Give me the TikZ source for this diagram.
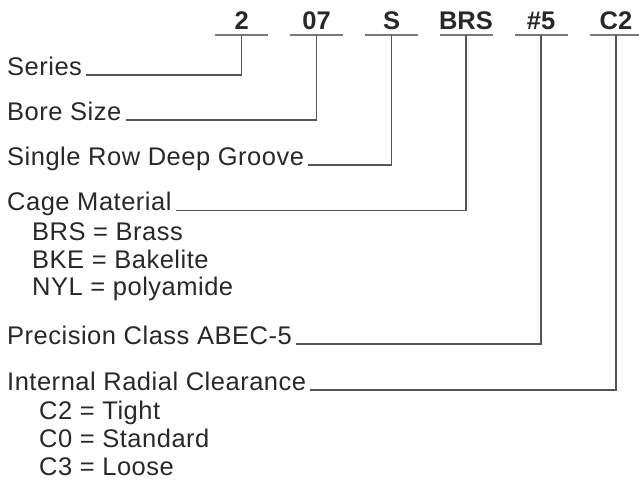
\documentclass[tikz,border=0pt]{standalone}
\usepackage{fontspec}
\setmainfont{Liberation Sans}
\newfontfamily\lblfont[LetterSpace=2]{Liberation Sans}
\usepackage{tikz}
\usepackage{xcolor}
\definecolor{inkgray}{RGB}{40, 40, 40}
\definecolor{linegray}{RGB}{85, 85, 85}
\definecolor{rulegray}{RGB}{120, 120, 120}
\tikzset{
  codetxt/.style={font=\fontsize{25.5}{30}\selectfont\bfseries, text=inkgray, inner sep=0pt},
  lbl/.style={font=\lblfont\fontsize{25.5}{30}\selectfont, text=inkgray, anchor=base west, inner xsep=4pt, inner ysep=0pt},
  lead/.style={draw=linegray, line width=1.3pt},
  uline/.style={draw=rulegray, line width=2pt}
}
\begin{document}
\begin{tikzpicture}[x=1pt, y=-1pt]
    \useasboundingbox (0,0) rectangle (639,483);
    % part number
    \foreach \code/\name/\x in {2/s2/241.7, 07/s07/316.5, S/sS/391.5, BRS/sBRS/466, {\#5}/s5/541, C2/sC2/616} {
      \node[codetxt, anchor=base] (\name) at (\x, 29) {\code};
      \coordinate (\name u) at (\x, 34.7);
      \draw[uline] ([xshift=-26.5pt]\name u) -- ([xshift=26.5pt]\name u);
    }
    % labels
    \node[lbl] (series) at (3, 75) {Series};
    \node[lbl] (bore) at (3, 120) {Bore Size};
    \node[lbl] (single) at (3, 165) {Single Row Deep Groove};
    \node[lbl] (cage) at (3, 210.7) {Cage Material};
    \node[lbl] (brs) at (28, 240) {BRS = Brass};
    \node[lbl] (bke) at (28, 268) {BKE = Bakelite};
    \node[lbl] (nyl) at (28, 295.5) {NYL = polyamide};
    \node[lbl] (prec) at (3, 344) {Precision Class ABEC-5};
    \node[lbl] (irc) at (3, 390) {Internal Radial Clearance};
    \node[lbl] (tight) at (35, 419) {C2 = Tight};
    \node[lbl] (std) at (35, 447) {C0 = Standard};
    \node[lbl] (loose) at (35, 475) {C3 = Loose};
    % leaders
    \draw[lead] (series.base east) -| (s2u);
    \draw[lead] (bore.base east) -| (s07u);
    \draw[lead] (single.base east) -| (sSu);
    \draw[lead] (cage.base east) -| (sBRSu);
    \draw[lead] (prec.base east) -| (s5u);
    \draw[lead] (irc.base east) -| (sC2u);
\end{tikzpicture}
\end{document}
